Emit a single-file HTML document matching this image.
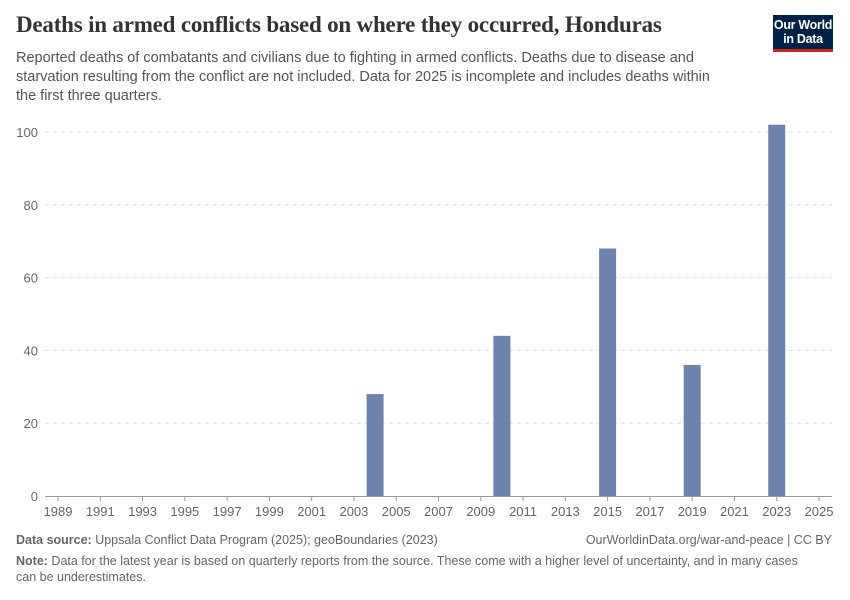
<!DOCTYPE html>
<html><head><meta charset="utf-8"><style>
body{margin:0;width:850px;height:600px;background:#fff;font-family:"Liberation Sans",sans-serif;overflow:hidden;position:relative}
.t{position:absolute;margin:0}
</style></head><body>
<h1 class="t" style="left:16px;top:12px;font-family:'Liberation Serif',serif;font-size:23px;font-weight:bold;color:#333;letter-spacing:-0.2px">Deaths in armed conflicts based on where they occurred, Honduras</h1>
<p class="t" style="left:16px;top:49px;width:705px;font-size:14.5px;line-height:19px;color:#555">Reported deaths of combatants and civilians due to fighting in armed conflicts. Deaths due to disease and starvation resulting from the conflict are not included. Data for 2025 is incomplete and includes deaths within the first three quarters.</p>
<div style="position:absolute;left:773px;top:15px;width:60px;height:37px;background:#002147;color:#fff;font-size:12.5px;font-weight:bold;line-height:14px;text-align:center;box-sizing:border-box;padding-top:3px;border-bottom:3px solid #ce261e;letter-spacing:-0.3px">Our World<br>in Data</div>
<svg id="c" width="850" height="600" style="position:absolute;left:0;top:0"></svg>
<p class="t" style="left:16px;top:533px;font-size:12.5px;color:#666"><b>Data source:</b> Uppsala Conflict Data Program (2025); geoBoundaries (2023)</p>
<p class="t" style="right:18px;top:533px;font-size:12.5px;color:#666">OurWorldinData.org/war-and-peace | CC BY</p>
<p class="t" style="left:16px;top:554px;width:800px;font-size:12.5px;line-height:15.5px;color:#666"><b>Note:</b> Data for the latest year is based on quarterly reports from the source. These come with a higher level of uncertainty, and in many cases can be underestimates.</p>
<script>
const years=[2004,2010,2015,2019,2023];
const deaths=[28,44,68,36,102];
const yTicks=[0,20,40,60,80,100];
const xTicks=[1989,1991,1993,1995,1997,1999,2001,2003,2005,2007,2009,2011,2013,2015,2017,2019,2021,2023,2025];
const svg=document.getElementById('c');const NS='http://www.w3.org/2000/svg';
const x=y=>58+(y-1989)*(819-58)/36;
const yS=v=>496-v*3.64;
function mk(t,a,txt){const e=document.createElementNS(NS,t);for(const k in a)e.setAttribute(k,a[k]);if(txt!==undefined)e.textContent=txt;svg.appendChild(e);return e;}
yTicks.forEach(v=>{
 if(v>0){const g=mk('line',{x1:45,x2:832,y1:yS(v),y2:yS(v),stroke:'#ddd','stroke-dasharray':'4,4'});
 
 }
 const t=mk('text',{x:38,y:yS(v)+5,'text-anchor':'end','font-size':13,fill:'#666','font-family':'Liberation Sans'},v);
 
 
});
years.forEach((yr,i)=>{
 const r=mk('rect',{x:x(yr)-8.5,y:yS(deaths[i]),width:17,height:496-yS(deaths[i]),fill:'#6d83ad'});
 
 
});
const ax=mk('line',{x1:45,x2:832,y1:496.5,y2:496.5,stroke:'#999'});


xTicks.forEach(yr=>{
 const tk=mk('line',{x1:x(yr),x2:x(yr),y1:496,y2:501,stroke:'#999'});
 
 
 const t=mk('text',{x:x(yr),y:516,'text-anchor':'middle','font-size':13,fill:'#666','font-family':'Liberation Sans'},yr);
 
 
});
</script>
</body></html>
